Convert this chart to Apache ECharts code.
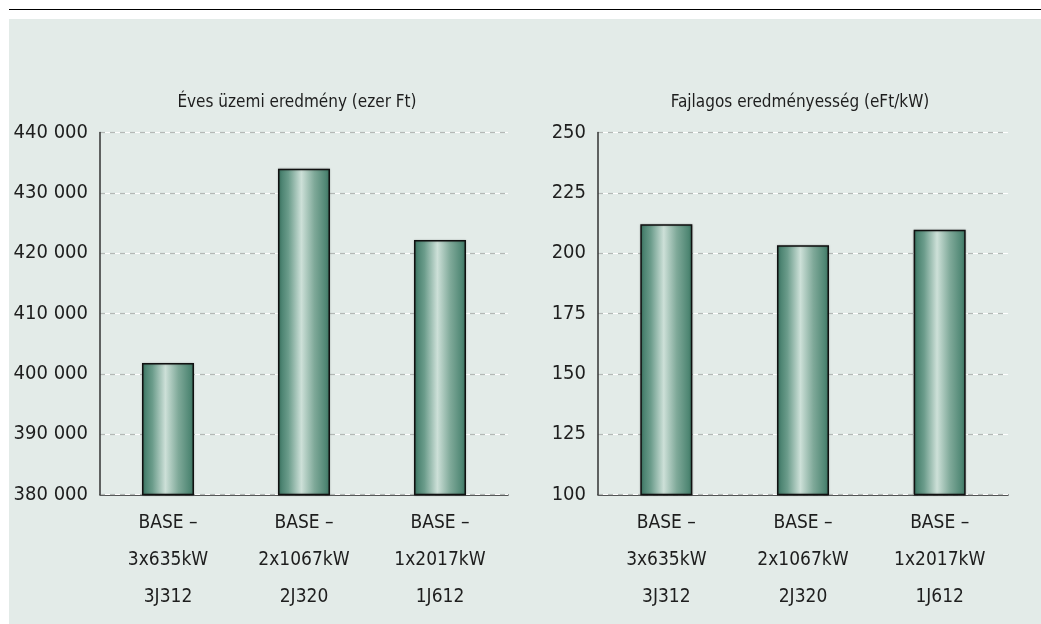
<!DOCTYPE html>
<html><head><meta charset="utf-8">
<script src="https://cdn.jsdelivr.net/npm/echarts@6/dist/echarts.min.js"></script>
<style>html,body{margin:0;padding:0;background:#fff}#c{width:1041px;height:624px}</style>
</head><body><div id="c"></div>
<script>
const categories = ['BASE –\n3x635kW\n3J312', 'BASE –\n2x1067kW\n2J320', 'BASE –\n1x2017kW\n1J612'];
const leftValues = [401800, 434000, 422200];
const rightValues = [212, 203.3, 209.7];
const leftTitle = 'Éves üzemi eredmény (ezer Ft)';
const rightTitle = 'Fajlagos eredményesség (eFt/kW)';

const FONT = '"DejaVu Sans Condensed","Liberation Sans Narrow","Roboto",sans-serif';
const TXT = '#1e1e1e';
const barGrad = {type:'linear',x:0,y:0,x2:1,y2:0,colorStops:[
  {offset:0,color:'#3b7663'},{offset:0.2,color:'#6b9c8b'},{offset:0.45,color:'#cde0d8'},
  {offset:0.7,color:'#7fa999'},{offset:1,color:'#3f7b67'}]};

function yAxes(gi, min, max, interval, fmt){
  return [{
    gridIndex:gi, type:'value', min, max, interval,
    axisLine:{show:true,lineStyle:{color:'#333',width:1.5}},
    axisTick:{show:false},
    axisLabel:{color:TXT,fontFamily:FONT,fontSize:20,margin:12,formatter:fmt},
    splitLine:{show:true,lineStyle:{color:'#b4b8b6',type:[5,5],width:1.2}},
    z:3
  },{
    gridIndex:gi, type:'value', min, max, interval,
    axisLine:{show:false},axisTick:{show:false},axisLabel:{show:false},
    splitLine:{show:true,lineStyle:{color:'#ffffff',width:1.2}},
    z:1
  }];
}
function xAxis(gi){
  return {gridIndex:gi,type:'category',data:categories,
    axisLine:{show:true,lineStyle:{color:'#222',width:1.5}},
    axisTick:{show:false},
    axisLabel:{color:TXT,fontFamily:FONT,fontSize:19,lineHeight:37,margin:10}};
}
const chart = echarts.init(document.getElementById('c'));
chart.setOption({
  backgroundColor:'#ffffff',
  animation:false,
  graphic:[
    {type:'rect',shape:{x:9,y:19,width:1032,height:605},style:{fill:'#e3ebe8'},z:-10},
    {type:'line',shape:{x1:9,y1:9.5,x2:1041,y2:9.5},style:{stroke:'#000',lineWidth:1.2},z:-10}
  ],
  title:[
    {text:leftTitle,left:292,top:89,textAlign:'center',textStyle:{fontFamily:FONT,fontSize:17,fontWeight:'normal',color:TXT}},
    {text:rightTitle,left:795,top:89,textAlign:'center',textStyle:{fontFamily:FONT,fontSize:17,fontWeight:'normal',color:TXT}}
  ],
  grid:[
    {left:100,top:132.5,width:408,height:362},
    {left:598,top:132.5,width:410,height:362}
  ],
  xAxis:[xAxis(0),xAxis(1)],
  yAxis:[...yAxes(0,380000,440000,10000,v=>String(v).replace(/\B(?=(\d{3})+(?!\d))/g,' ')),
         ...yAxes(1,100,250,25,v=>String(v))],
  series:[
    {type:'bar',xAxisIndex:0,yAxisIndex:0,data:leftValues,barWidth:52,
     itemStyle:{color:barGrad,borderColor:'#111',borderWidth:1.5,shadowColor:'rgba(0,0,0,0.25)',shadowBlur:2},z:5},
    {type:'bar',xAxisIndex:1,yAxisIndex:2,data:rightValues,barWidth:52,
     itemStyle:{color:barGrad,borderColor:'#111',borderWidth:1.5,shadowColor:'rgba(0,0,0,0.25)',shadowBlur:2},z:5}
  ]
});
</script></body></html>
